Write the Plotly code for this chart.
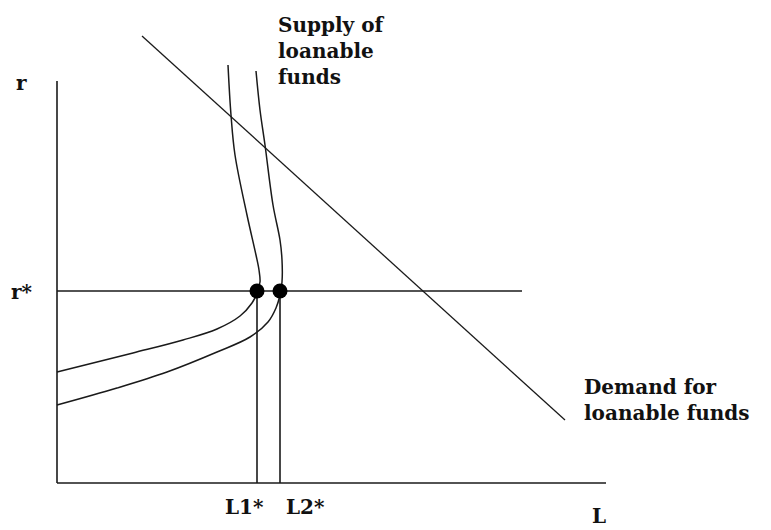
import plotly.graph_objects as go

# Coordinates: origin of the diagram at the axis corner
axis_x_end = 549
axis_y_top = 402
r_star = 192
r_star_line_end = 465
L1_star = 200
L2_star = 223

demand_L = [85, 508]
demand_r = [447, 63]

supply1_L = [171, 174, 178, 190, 199, 202, 203, 201, 200, 195, 183, 160, 126, 76, 0]
supply1_r = [418, 368, 328, 268, 228, 213, 201, 195, 190, 180, 167, 154, 143, 130, 111]

supply2_L = [199, 203, 208, 216, 223, 225, 225, 223, 219, 211, 193, 160, 110, 60, 0]
supply2_r = [412, 373, 338, 278, 243, 223, 201, 188, 175, 161, 146, 131, 111, 95, 78]

eq_L = [L1_star, L2_star]
eq_r = [r_star, r_star]

line_col = "#1a1a1a"
font = dict(family="DejaVu Serif", size=20, color="#111111")

fig = go.Figure()

def add_line(xs, ys, width=1.6, shape="linear"):
    fig.add_trace(go.Scatter(x=xs, y=ys, mode="lines",
                             line=dict(color=line_col, width=width, shape=shape, smoothing=1.0),
                             hoverinfo="skip", showlegend=False))

# axes
add_line([0, 0], [axis_y_top, 0])
add_line([0, axis_x_end], [0, 0])
# r* line
add_line([0, r_star_line_end], [r_star, r_star])
# L1*, L2* verticals
add_line([L1_star, L1_star], [r_star, 0])
add_line([L2_star, L2_star], [r_star, 0])
# demand
add_line(demand_L, demand_r, width=1.3)
# supply curves
add_line(supply1_L, supply1_r, width=1.5, shape="spline")
add_line(supply2_L, supply2_r, width=1.5, shape="spline")
# equilibrium dots
fig.add_trace(go.Scatter(x=eq_L, y=eq_r, mode="markers",
                         marker=dict(color="black", size=15),
                         hoverinfo="skip", showlegend=False))

def ann(text, x, y, xanchor="center", yanchor="middle", align="left"):
    fig.add_annotation(x=x, y=y, text=text, showarrow=False, xanchor=xanchor,
                       yanchor=yanchor, align=align, font=font)

ann("<b>r</b>", -36, 400)
ann("<b>r*</b>", -35, 191)
ann("<b>Supply of<br>loanable<br>funds</b>", 219, 472, xanchor="left", yanchor="top")
ann("<b>Demand for<br>loanable funds</b>", 525, 110, xanchor="left", yanchor="top")
ann("<b>L1*</b>", L1_star - 13, -24)
ann("<b>L2*</b>", L2_star + 25, -24)
ann("<b>L</b>", 542, -33)

# page body has an 8px margin, so ranges are offset to keep the diagram in place
fig.update_layout(
    width=771, height=530,
    margin=dict(l=0, r=0, t=0, b=0),
    paper_bgcolor="white", plot_bgcolor="white",
    xaxis=dict(range=[-49, 722], visible=False, fixedrange=True),
    yaxis=dict(range=[-55, 475], visible=False, fixedrange=True),
)

fig.write_html("out.html")
